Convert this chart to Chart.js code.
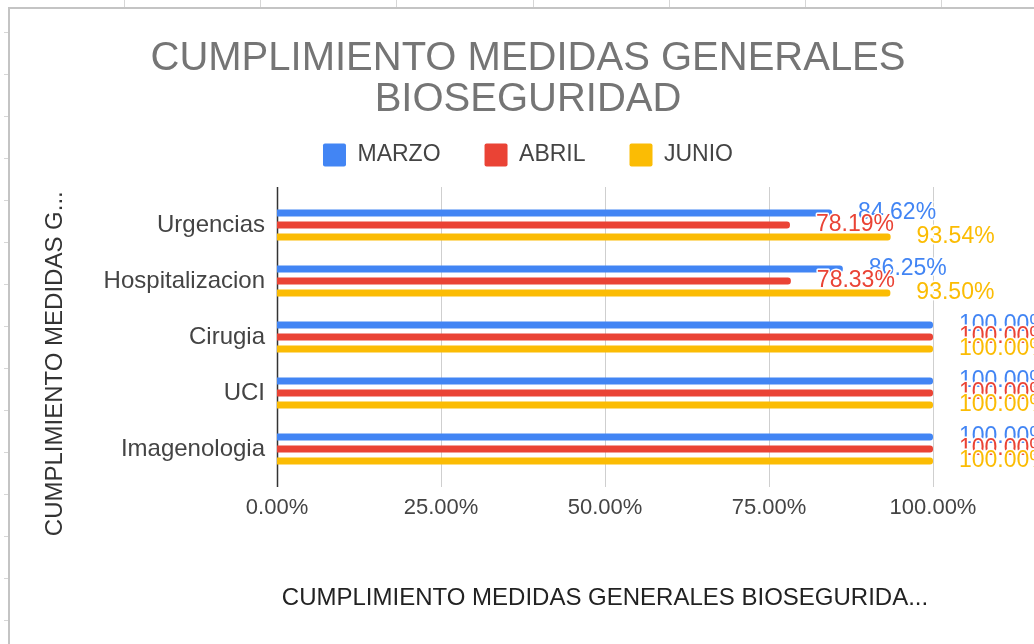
<!DOCTYPE html>
<html>
<head>
<meta charset="utf-8">
<title>Cumplimiento medidas generales bioseguridad</title>
<script src="https://cdn.jsdelivr.net/npm/chart.js@4/dist/chart.umd.min.js"></script>
<style>
  html, body { margin: 0; padding: 0; background: #fff; overflow: hidden; }
  #frame {
    position: absolute; left: 8px; top: 7px;
    border-left: 2px solid #c4c4c4; border-top: 2px solid #c4c4c4;
    width: 1036px; height: 640px;
  }
  .mark { position: absolute; background: #d6d6d6; }
</style>
</head>
<body>
<div id="frame"><canvas id="chart" width="1036" height="640"></canvas></div>
<script>
// data
const categories = ['Urgencias', 'Hospitalizacion', 'Cirugia', 'UCI', 'Imagenologia'];
const marzo = [84.62, 86.25, 100, 100, 100];
const abril = [78.19, 78.33, 100, 100, 100];
const junio = [93.54, 93.50, 100, 100, 100];
const xTicks = [0, 25, 50, 75, 100];

const FONT = '"Liberation Sans", Arial, sans-serif';

// little spreadsheet cell marks around the frame
for (let i = 0; i < 7; i++) {
  const d = document.createElement('div');
  d.className = 'mark';
  d.style.cssText = `left:${124 + i * 136.2}px;top:0;width:1px;height:7px`;
  document.body.appendChild(d);
}
for (let i = 0; i < 15; i++) {
  const d = document.createElement('div');
  d.className = 'mark';
  d.style.cssText = `left:4px;top:${32 + i * 42}px;width:4px;height:1px`;
  document.body.appendChild(d);
}

// gridlines + axis line that run a bit past the plot, like the sheets chart
const gridLines = {
  id: 'gridLines',
  beforeDatasetsDraw(chart) {
    const {ctx, chartArea, scales} = chart;
    ctx.save();
    xTicks.forEach(v => {
      const x = Math.round(scales.x.getPixelForValue(v)) + 0.5;
      ctx.beginPath();
      ctx.strokeStyle = v === 0 ? '#333' : '#cfcfcf';
      ctx.lineWidth = v === 0 ? 1.5 : 1;
      ctx.moveTo(x, chartArea.top - 10);
      ctx.lineTo(x, chartArea.bottom + 10);
      ctx.stroke();
    });
    ctx.restore();
  }
};

const valueLabels = {
  id: 'valueLabels',
  afterDatasetsDraw(chart) {
    const ctx = chart.ctx;
    ctx.save();
    ctx.font = '23px ' + FONT;
    ctx.textAlign = 'left';
    ctx.textBaseline = 'middle';
    ctx.lineJoin = 'round';
    chart.data.datasets.forEach((ds, i) => {
      chart.getDatasetMeta(i).data.forEach((bar, j) => {
        const txt = ds.data[j].toFixed(2) + '%';
        ctx.lineWidth = 3;
        ctx.strokeStyle = '#fff';
        ctx.strokeText(txt, bar.x + 26, bar.y);
        ctx.fillStyle = ds.backgroundColor;
        ctx.fillText(txt, bar.x + 26, bar.y);
      });
    });
    ctx.restore();
  }
};

// extra room under the legend
const legendGap = {
  id: 'legendGap',
  beforeInit(chart) {
    const fit = chart.legend.fit;
    chart.legend.fit = function () {
      fit.bind(chart.legend)();
      this.height += 20.5;
    };
  }
};

const canvas = document.getElementById('chart');
const chart = new Chart(canvas, {
  type: 'bar',
  data: {
    labels: categories,
    datasets: [
      { label: 'MARZO', data: marzo, backgroundColor: '#4285F4' },
      { label: 'ABRIL', data: abril, backgroundColor: '#EA4335' },
      { label: 'JUNIO', data: junio, backgroundColor: '#FBBC04' }
    ]
  },
  options: {
    indexAxis: 'y',
    responsive: false,
    animation: false,
    events: [],
    categoryPercentage: 0.643,
    barPercentage: 0.58,
    borderRadius: 3,
    layout: { padding: { top: 0, left: 30.6, right: 30.6, bottom: 36.6 } },
    plugins: {
      tooltip: { enabled: false },
      title: {
        display: true,
        text: ['CUMPLIMIENTO MEDIDAS GENERALES', 'BIOSEGURIDAD'],
        color: '#757575',
        font: { family: FONT, size: 40, weight: 'normal', lineHeight: 1.025 },
        padding: { top: 29.5, bottom: -21 }
      },
      legend: {
        position: 'top',
        labels: {
          color: '#444',
          font: { family: FONT, size: 23 },
          boxWidth: 23,
          boxHeight: 23,
          padding: 44,
          useBorderRadius: true,
          borderRadius: 2
        }
      }
    },
    scales: {
      x: {
        min: 0,
        max: 100,
        grid: { display: false, drawTicks: false },
        border: { display: false },
        ticks: {
          stepSize: 25,
          padding: 17.8,
          color: '#444',
          font: { family: FONT, size: 22 },
          callback: v => v.toFixed(2) + '%'
        },
        title: {
          display: true,
          text: 'CUMPLIMIENTO MEDIDAS GENERALES BIOSEGURIDA...',
          color: '#222',
          font: { family: FONT, size: 24 },
          padding: { top: 44.6, bottom: 0 }
        },
        // keep room on the right for the value labels
        afterFit: scale => { scale.paddingRight = 113; }
      },
      y: {
        grid: { display: false, drawTicks: false },
        border: { display: false },
        ticks: {
          padding: 12,
          color: '#444',
          font: { family: FONT, size: 24 }
        },
        title: {
          display: true,
          text: 'CUMPLIMIENTO MEDIDAS G...        ',
          color: '#333',
          font: { family: FONT, size: 24 },
          padding: { top: 0, bottom: 22.2 }
        }
      }
    }
  },
  plugins: [gridLines, valueLabels, legendGap]
});
</script>
</body>
</html>
